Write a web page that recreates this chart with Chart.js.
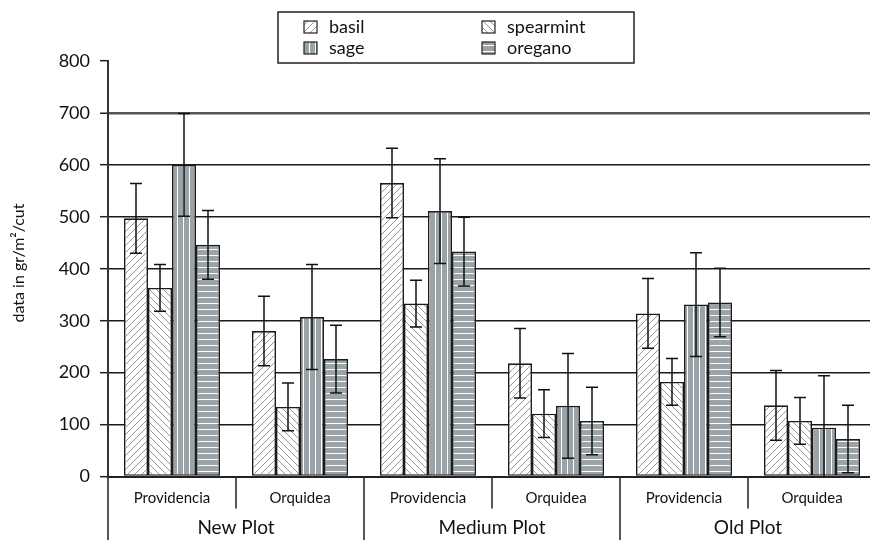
<!DOCTYPE html>
<html>
<head>
<meta charset="utf-8">
<script src="https://cdn.jsdelivr.net/npm/chart.js@4/dist/chart.umd.min.js"></script>
<style>
  html, body { margin: 0; padding: 0; background: #fff; overflow: hidden; }
  #wrap { width: 880px; height: 540px; }
</style>
</head>
<body>
<div id="wrap"><canvas id="c" width="880" height="540"></canvas></div>
<script>
// Harvest per cut (gr/m²) by herb, plantation age and site
const subCategories = ['Providencia', 'Orquidea', 'Providencia', 'Orquidea', 'Providencia', 'Orquidea'];
const plotGroups = ['New Plot', 'Medium Plot', 'Old Plot'];
const seriesNames = ['basil', 'spearmint', 'sage', 'oregano'];

const basil = [497, 280, 565, 218, 314, 137];
const spearmint = [363, 134, 333, 121, 182, 107];
const sage = [600, 307, 511, 136, 331, 94];
const oregano = [446, 226, 433, 107, 335, 72];

const basilErr = [67, 67, 67, 67, 67, 67];
const spearmintErr = [45, 46, 45, 46, 45, 45];
const sageErr = [99, 101, 101, 101, 100, 100];
const oreganoErr = [66, 65, 66, 65, 66, 65];

const yTickValues = [0, 100, 200, 300, 400, 500, 600, 700, 800];
const yTitle = 'data in gr/m²/cut';

const FONT = 'Lato, "Open Sans", sans-serif';
const GREY = '#9aa4a8';

// fill patterns for the four series
function makePattern(kind) {
  const s = kind === 'vertical' ? 6 : (kind === 'horizontal' ? 6 : 7);
  const p = document.createElement('canvas');
  p.width = s; p.height = s;
  const g = p.getContext('2d');
  if (kind === 'fwd' || kind === 'back') {
    g.fillStyle = '#fff';
    g.fillRect(0, 0, s, s);
    g.strokeStyle = '#8a8a8a';
    g.lineWidth = 0.9;
    g.beginPath();
    if (kind === 'fwd') {
      g.moveTo(-1, s + 1); g.lineTo(s + 1, -1);
      g.moveTo(-1, 1); g.lineTo(1, -1);
      g.moveTo(s - 1, s + 1); g.lineTo(s + 1, s - 1);
    } else {
      g.moveTo(-1, -1); g.lineTo(s + 1, s + 1);
      g.moveTo(s - 1, -1); g.lineTo(s + 1, 1);
      g.moveTo(-1, s - 1); g.lineTo(1, s + 1);
    }
    g.stroke();
  } else {
    g.fillStyle = GREY;
    g.fillRect(0, 0, s, s);
    g.fillStyle = '#ffffff';
    if (kind === 'vertical') g.fillRect(3, 0, 1, s);
    else g.fillRect(0, 3, s, 1);
  }
  const ctx = document.getElementById('c').getContext('2d');
  return ctx.createPattern(p, 'repeat');
}

const fills = [makePattern('fwd'), makePattern('back'), makePattern('vertical'), makePattern('horizontal')];
const values = [basil, spearmint, sage, oregano];
const errors = [basilErr, spearmintErr, sageErr, oreganoErr];

// error bars drawn from each bar's value through the y scale
const errorBars = {
  id: 'errorBars',
  afterDatasetsDraw(chart) {
    const ctx = chart.ctx;
    const y = chart.scales.y;
    const area = chart.chartArea;
    ctx.save();
    ctx.strokeStyle = '#111';
    ctx.lineWidth = 1.5;
    chart.data.datasets.forEach((ds, di) => {
      const meta = chart.getDatasetMeta(di);
      meta.data.forEach((bar, i) => {
        const v = ds.data[i], e = ds.errors[i];
        const top = y.getPixelForValue(v + e);
        const bot = Math.min(y.getPixelForValue(v - e), area.bottom);
        const x = bar.x;
        ctx.beginPath();
        ctx.moveTo(x, top); ctx.lineTo(x, bot);
        ctx.moveTo(x - 6, top); ctx.lineTo(x + 6, top);
        if (v - e >= 0) { ctx.moveTo(x - 6, bot); ctx.lineTo(x + 6, bot); }
        ctx.stroke();
      });
    });
    ctx.restore();
  }
};

// two-level category axis, y axis title and framed legend
const decorations = {
  id: 'decorations',
  afterDraw(chart) {
    const ctx = chart.ctx;
    const x = chart.scales.x;
    const area = chart.chartArea;
    const n = subCategories.length;
    const step = (area.right - area.left) / n;
    ctx.save();
    ctx.strokeStyle = '#222';
    ctx.lineWidth = 1.5;
    // y axis continues down through the label rows
    ctx.beginPath();
    ctx.moveTo(area.left, area.bottom); ctx.lineTo(area.left, 540);
    for (let i = 1; i <= n; i++) {
      const bx = area.left + step * i;
      ctx.moveTo(bx, area.bottom);
      ctx.lineTo(bx, i % 2 === 0 ? 540 : area.bottom + 32);
    }
    ctx.stroke();

    ctx.fillStyle = '#111';
    ctx.textAlign = 'center';
    ctx.textBaseline = 'middle';
    ctx.font = '15px ' + FONT;
    subCategories.forEach((lab, i) => {
      ctx.fillText(lab, x.getPixelForValue(i), area.bottom + 22);
    });
    ctx.font = '19px ' + FONT;
    plotGroups.forEach((lab, g) => {
      const cx = (x.getPixelForValue(g * 2) + x.getPixelForValue(g * 2 + 1)) / 2;
      ctx.fillText(lab, cx, area.bottom + 51);
    });

    // y axis title
    ctx.save();
    ctx.translate(19, 263);
    ctx.rotate(-Math.PI / 2);
    ctx.font = '16px ' + FONT;
    ctx.fillText(yTitle, 0, 0);
    ctx.restore();

    // legend box
    ctx.fillStyle = '#fff';
    ctx.fillRect(278, 12, 356, 51);
    ctx.strokeStyle = '#222';
    ctx.lineWidth = 1.5;
    ctx.strokeRect(278, 12, 356, 51);
    const pos = [[304, 27], [482, 27], [304, 48], [482, 48]];
    ctx.font = '18px ' + FONT;
    ctx.textAlign = 'left';
    [0, 1, 2, 3].forEach((di, k) => {
      const [lx, ly] = pos[k];
      ctx.fillStyle = fills[di];
      ctx.fillRect(lx, ly - 6, 13, 12);
      ctx.lineWidth = 1.2;
      ctx.strokeStyle = '#222';
      ctx.strokeRect(lx, ly - 6, 13, 12);
      ctx.fillStyle = '#111';
      ctx.fillText(chart.data.datasets[di].label, lx + 25, ly);
    });
    ctx.restore();
  }
};

new Chart(document.getElementById('c'), {
  type: 'bar',
  data: {
    labels: subCategories,
    datasets: seriesNames.map((name, i) => ({
      label: name,
      data: values[i],
      errors: errors[i],
      backgroundColor: fills[i],
      borderColor: '#1c1c1c',
      borderWidth: 1.6,
      borderSkipped: false,
      categoryPercentage: 0.75,
      barPercentage: 1.0
    }))
  },
  options: {
    responsive: false,
    animation: false,
    layout: { padding: { top: 61, right: 4, left: 0, bottom: 0 } },
    plugins: { legend: { display: false }, tooltip: { enabled: false } },
    scales: {
      x: {
        grid: { display: false },
        ticks: { display: false },
        border: { display: true, color: '#222', width: 2 },
        afterFit(scale) { scale.height = 63.5; }
      },
      y: {
        min: 0,
        max: 800,
        afterBuildTicks(scale) { scale.ticks = yTickValues.map(v => ({ value: v })); },
        afterFit(scale) { scale.width = 108; },
        ticks: {
          font: { family: FONT, size: 18 },
          color: '#111',
          padding: 10
        },
        border: { display: true, color: '#333', width: 2 },
        grid: {
          tickLength: 8,
          tickColor: '#222',
          tickWidth: 1.5,
          color: ctx => (ctx.tick && (ctx.tick.value === 800 || ctx.tick.value === 0)) ? 'rgba(0,0,0,0)' :
                        (ctx.tick && ctx.tick.value === 700 ? '#555' : '#1a1a1a'),
          lineWidth: ctx => (ctx.tick && ctx.tick.value === 700) ? 2.5 : 1.4
        }
      }
    }
  },
  plugins: [errorBars, decorations]
});
</script>
</body>
</html>
